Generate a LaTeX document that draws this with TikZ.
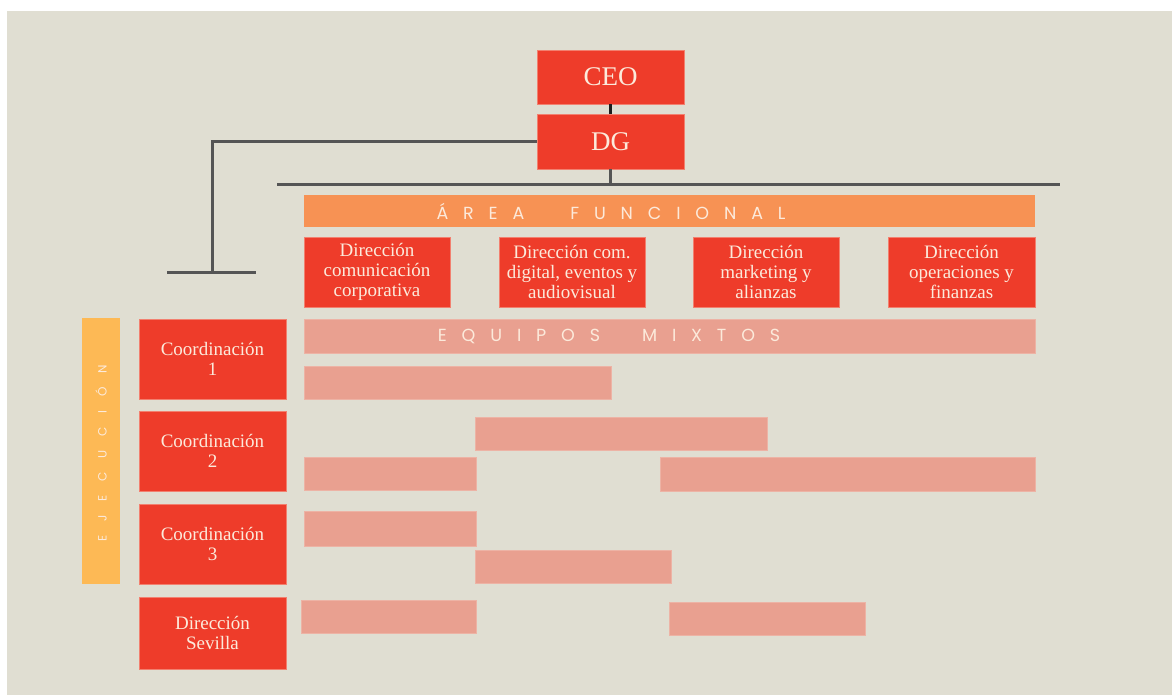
\documentclass[tikz,border=0pt]{standalone}
\usepackage{fontspec}
\setmainfont{Liberation Serif}
\newfontfamily\spacedfont[LetterSpace=85]{Poppins}
\newfontfamily\ejfont[LetterSpace=115]{Poppins}
\definecolor{bg}{HTML}{E0DED2}
\definecolor{boxred}{HTML}{EE3C2A}
\definecolor{boxedge}{HTML}{F2806F}
\definecolor{areaor}{HTML}{F79254}
\definecolor{salmon}{HTML}{E9A090}
\definecolor{salmonedge}{HTML}{EDB3A5}
\definecolor{ejyel}{HTML}{FDB955}
\definecolor{cream}{HTML}{FCEADB}
\definecolor{linegray}{HTML}{555555}
\definecolor{linedark}{HTML}{1E1E1E}
\begin{document}
\begin{tikzpicture}[x=1pt,y=-1pt,
  sz/.style 2 args={rectangle, inner sep=0pt, minimum width=#1pt, minimum height=#2pt},
  redbox/.style={fill=boxred, draw=boxedge, line width=0.7pt, text=cream, align=center,
    font=\fontsize{19}{20}\selectfont},
  bigbox/.style={fill=boxred, draw=boxedge, line width=0.7pt, text=cream,
    font=\fontsize{27}{27}\selectfont},
  teambar/.style={fill=salmon, draw=salmonedge, line width=0.7pt},
  spacedtext/.style={text=cream, inner sep=0pt, font=\spacedfont\fontsize{17.5}{17.5}\selectfont},
  conn/.style={draw=linegray, line width=3pt},
]
\useasboundingbox (0,0) rectangle (1172,695);
\fill[white] (0,0) rectangle (1172,695);
\fill[bg] (7,11) rectangle (1172,695);

% top
\node[bigbox, sz={147}{54}] (ceo) at (610.5,77) {CEO};
\node[bigbox, sz={147}{55}] (dg) at (610.5,141.5) {DG};

% bars
\node[sz={731}{32}, fill=areaor] (area) at (669.5,211) {};
\node[spacedtext] (areatxt) at (611,211) {ÁREA\hspace{46pt}FUNCIONAL};

\node[redbox, sz={146}{70}] (d1) at (377,272) {Dirección\\comunicación\\corporativa};
\node[redbox, sz={146}{70}] (d2) at (572,272) {Dirección com.\\digital, eventos y\\audiovisual};
\node[redbox, sz={146}{70}] (d3) at (766,272) {Dirección\\marketing y\\alianzas};
\node[redbox, sz={147}{70}] (d4) at (961.5,272) {Dirección\\operaciones y\\finanzas};

\node[teambar, sz={731}{34}] (equipos) at (669.5,336) {};
\node[spacedtext] (equipostxt) at (609,336) {EQUIPOS\hspace{42pt}MIXTOS};

\node[teambar, sz={307}{33}] (e1) at (457.5,382.5) {};
\node[teambar, sz={292}{33}] (e2) at (621,433.5) {};
\node[teambar, sz={172}{33}] (e3) at (390,473.5) {};
\node[teambar, sz={375}{34}] (e4) at (847.5,474) {};
\node[teambar, sz={172}{35}] (e5) at (390,528.5) {};
\node[teambar, sz={196}{33}] (e6) at (573,566.5) {};
\node[teambar, sz={175}{33}] (e7) at (388.5,616.5) {};
\node[teambar, sz={196}{33}] (e8) at (767,618.5) {};

% left column
\node[sz={38}{266}, fill=ejyel] (ejec) at (101,451) {};
\node[text=cream, inner sep=0pt, rotate=90, font=\ejfont\fontsize{12}{12}\selectfont] (ejectxt) at (101,453) {EJECUCIÓN};

\node[redbox, sz={147}{80}] (c1) at (212.5,359) {Coordinación\\1};
\node[redbox, sz={147}{80}] (c2) at (212.5,451) {Coordinación\\2};
\node[redbox, sz={147}{80}] (c3) at (212.5,544) {Coordinación\\3};
\node[redbox, sz={147}{72}] (sev) at (212.5,633) {Dirección\\Sevilla};

% connectors
\draw[draw=linedark, line width=3pt] (ceo.south) -- (dg.north);
\coordinate (hl) at (277,185);
\coordinate (hr) at (1060,185);
\draw[conn] (hl) -- (hr);
\draw[conn] (dg.south) -- (dg.south |- hl);
\coordinate (ejx) at (212,272);
\coordinate (el) at (167,272);
\coordinate (er) at (256,272);
\draw[conn] (dg.west) -| (ejx);
\draw[conn] (el) -- (er);
\end{tikzpicture}
\end{document}
